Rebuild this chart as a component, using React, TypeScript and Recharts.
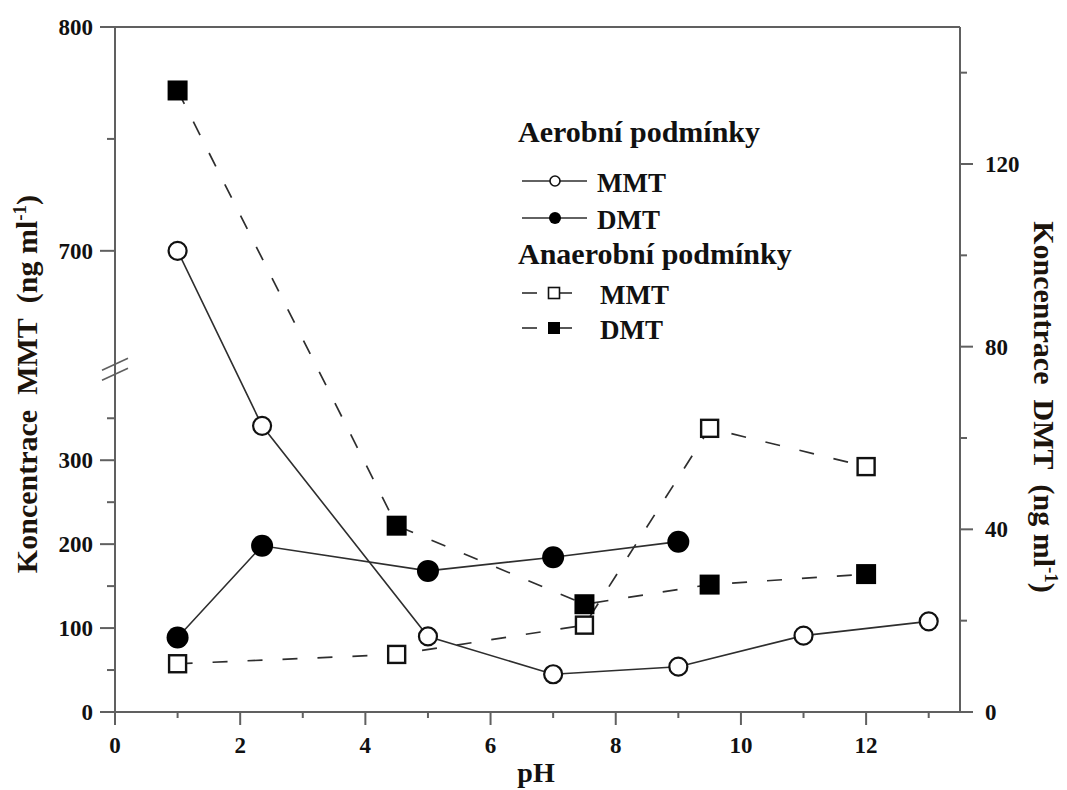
import { Legend, Line, LineChart, XAxis, YAxis } from "recharts";

// values (pH, MMT and DMT in ng/ml)
const aerobicPh = [1, 2.35, 5, 7, 9, 11, 13];
const aerobicMmt = [700, 341, 90, 45, 54, 91, 108];
const aerobicDmtPh = [1, 2.35, 5, 7, 9];
const aerobicDmt = [16.3, 36.4, 30.9, 33.9, 37.3];
const anaerobicPh = [1, 4.5, 7.5, 9.5, 12];
const anaerobicMmt = [57.5, 68.6, 103.5, 338, 292.4];
const anaerobicDmt = [136.1, 40.8, 23.6, 27.9, 30.2];

const phTicks = [0, 1, 2, 3, 4, 5, 6, 7, 8, 9, 10, 11, 12, 13];
const mmtTicks = [0, 50, 100, 150, 200, 250, 300, 350, 700, 750, 800];
const dmtTicks = [0, 20, 40, 60, 80, 100, 120, 140];

// broken MMT axis: 0..~400 keeps its scale, 700..800 is stretched above the break
const POS_700 = 549.5;
const UPPER_GAIN = 2.667;
const toAxis = (m: number) => (m < 500 ? m : POS_700 + (m - 700) * UPPER_GAIN);
const fromAxis = (v: number) => (v <= 500 ? v : 700 + (v - POS_700) / UPPER_GAIN);
const BREAK_AT = 408.5;
const MMT_TOP = toAxis(800);

const aerobicMmtData = aerobicPh.map((ph, i) => ({ ph, v: toAxis(aerobicMmt[i]) }));
const aerobicDmtData = aerobicDmtPh.map((ph, i) => ({ ph, v: aerobicDmt[i] }));
const anaerobicMmtData = anaerobicPh.map((ph, i) => ({ ph, v: toAxis(anaerobicMmt[i]) }));
const anaerobicDmtData = anaerobicPh.map((ph, i) => ({ ph, v: anaerobicDmt[i] }));

const AXIS = "#606060";
const INK = "#111";
const LINE = "#2e2e2e";
const FONT = '"Liberation Serif", "Times New Roman", serif';

type TickProps = { x?: number; y?: number; payload?: { value: number } };
type DotProps = { cx?: number; cy?: number; index?: number };

const tickText = { fontFamily: FONT, fontWeight: 700, fontSize: 23, fill: INK };

function MmtTick({ x = 0, y = 0, payload }: TickProps) {
  const value = payload?.value ?? 0;
  if (Math.abs(value - BREAK_AT) < 0.5) {
    return (
      <g stroke={AXIS} strokeWidth={1.6}>
        <line x1={x - 13} y1={y + 1} x2={x + 13} y2={y - 11} />
        <line x1={x - 13} y1={y + 11} x2={x + 13} y2={y - 1} />
      </g>
    );
  }
  const mmt = Math.round(fromAxis(value));
  const major = mmt % 100 === 0;
  return (
    <g>
      <line x1={x} y1={y} x2={x - (major ? 15 : 8)} y2={y} stroke={AXIS} strokeWidth={2} />
      {major && (
        <text x={x - 22} y={y} dy="0.35em" textAnchor="end" {...tickText}>
          {mmt}
        </text>
      )}
    </g>
  );
}

function DmtTick({ x = 0, y = 0, payload }: TickProps) {
  const value = payload?.value ?? 0;
  const major = value % 40 === 0;
  return (
    <g>
      <line x1={x} y1={y} x2={x + (major ? 13 : 7)} y2={y} stroke={AXIS} strokeWidth={2} />
      {major && (
        <text x={x + 25} y={y} dy="0.35em" textAnchor="start" {...tickText}>
          {value}
        </text>
      )}
    </g>
  );
}

function PhTick({ x = 0, y = 0, payload }: TickProps) {
  const value = payload?.value ?? 0;
  const major = value % 2 === 0;
  return (
    <g>
      <line x1={x} y1={y} x2={x} y2={y + (major ? 13 : 6)} stroke={AXIS} strokeWidth={2} />
      {major && (
        <text x={x} y={y + 33} dy="0.35em" textAnchor="middle" {...tickText}>
          {value}
        </text>
      )}
    </g>
  );
}

function TopTick({ x = 0, y = 0, payload }: TickProps) {
  const major = (payload?.value ?? 0) % 2 === 0;
  return <line x1={x} y1={y} x2={x} y2={y + (major ? 7 : 4)} stroke={AXIS} strokeWidth={1.6} />;
}

const openCircle = ({ cx = 0, cy = 0, index = 0 }: DotProps) => (
  <circle key={`oc${index}`} cx={cx} cy={cy} r={9} fill="#fff" stroke={INK} strokeWidth={2.2} />
);
const filledCircle = ({ cx = 0, cy = 0, index = 0 }: DotProps) => (
  <circle key={`fc${index}`} cx={cx} cy={cy} r={11} fill="#000" />
);
const openSquare = ({ cx = 0, cy = 0, index = 0 }: DotProps) => (
  <rect key={`os${index}`} x={cx - 8.5} y={cy - 8.5} width={17} height={17} fill="#fff" stroke={INK} strokeWidth={2.4} />
);
const filledSquare = ({ cx = 0, cy = 0, index = 0 }: DotProps) => (
  <rect key={`fs${index}`} x={cx - 10} y={cy - 10} width={20} height={20} fill="#000" />
);

const titleText = { fontFamily: FONT, fontWeight: 700, fontSize: 30, fill: "#1c140c" };

const LeftTitle = () => (
  <text x={37} y={384} textAnchor="middle" transform="rotate(-90, 37, 384)" {...titleText}>
    Koncentrace{"\u00a0\u00a0"}MMT{"\u00a0\u00a0"}(ng ml
    <tspan fontSize={19} dy={-11}>-1</tspan>
    <tspan dy={11}>)</tspan>
  </text>
);

const RightTitle = () => (
  <text x={1034} y={407} textAnchor="middle" transform="rotate(90, 1034, 407)" {...titleText}>
    Koncentrace{"\u00a0\u00a0"}DMT{"\u00a0\u00a0"}(ng ml
    <tspan fontSize={19} dy={-11}>-1</tspan>
    <tspan dy={11}>)</tspan>
  </text>
);

const PhTitle = () => (
  <text x={536} y={782} textAnchor="middle" {...titleText} fontSize={28} fill={INK}>
    pH
  </text>
);

function LegendBox() {
  const item = { fontFamily: FONT, fontWeight: 700, fontSize: 27, fill: INK };
  const head = { fontFamily: FONT, fontWeight: 700, fontSize: 30, fill: INK };
  return (
    <svg width={320} height={250}>
      <text x={18} y={42} {...head}>Aerobní podmínky</text>
      <line x1={22} y1={81} x2={87} y2={81} stroke={LINE} strokeWidth={1.6} />
      <circle cx={55} cy={81} r={5} fill="#fff" stroke={INK} strokeWidth={1.6} />
      <text x={97} y={92} {...item}>MMT</text>
      <line x1={22} y1={118} x2={87} y2={118} stroke={LINE} strokeWidth={1.6} />
      <circle cx={55} cy={118} r={6} fill="#000" />
      <text x={97} y={129} {...item}>DMT</text>
      <text x={18} y={164} {...head}>Anaerobní podmínky</text>
      <line x1={22} y1={193} x2={37} y2={193} stroke={LINE} strokeWidth={1.6} />
      <line x1={60} y1={193} x2={72} y2={193} stroke={LINE} strokeWidth={1.6} />
      <rect x={48.5} y={187.5} width={11} height={11} fill="#fff" stroke={INK} strokeWidth={1.6} />
      <text x={100} y={204} {...item}>MMT</text>
      <line x1={22} y1={228} x2={37} y2={228} stroke={LINE} strokeWidth={1.6} />
      <line x1={60} y1={228} x2={72} y2={228} stroke={LINE} strokeWidth={1.6} />
      <rect x={48} y={222} width={12} height={12} fill="#000" />
      <text x={100} y={239} {...item}>DMT</text>
    </svg>
  );
}

export default function App() {
  return (
    <div style={{ position: "absolute", left: 0, top: 0, width: 1067, height: 790, background: "#fff" }}>
      <LineChart width={1067} height={790} margin={{ top: 17, right: 47, bottom: 48, left: 55 }}>
        <XAxis
          xAxisId="ph"
          dataKey="ph"
          type="number"
          domain={[0, 13.5]}
          ticks={phTicks}
          interval={0}
          allowDataOverflow
          height={30}
          stroke={AXIS}
          strokeWidth={2}
          tickLine={false}
          tickSize={0}
          tickMargin={0}
          tick={<PhTick />}
          label={<PhTitle />}
        />
        <XAxis
          xAxisId="top"
          orientation="top"
          type="number"
          domain={[0, 13.5]}
          ticks={phTicks}
          interval={0}
          allowDataOverflow
          height={10}
          stroke={AXIS}
          strokeWidth={2}
          tickLine={false}
          tickSize={0}
          tickMargin={0}
          tick={<TopTick />}
        />
        <YAxis
          yAxisId="mmt"
          type="number"
          domain={[0, MMT_TOP]}
          ticks={[...mmtTicks.map(toAxis), BREAK_AT]}
          interval={0}
          allowDataOverflow
          width={60}
          stroke={AXIS}
          strokeWidth={2}
          tickLine={false}
          tickSize={0}
          tickMargin={0}
          tick={<MmtTick />}
          label={<LeftTitle />}
        />
        <YAxis
          yAxisId="dmt"
          orientation="right"
          type="number"
          domain={[0, 150]}
          ticks={dmtTicks}
          interval={0}
          allowDataOverflow
          width={60}
          stroke={AXIS}
          strokeWidth={2}
          tickLine={false}
          tickSize={0}
          tickMargin={0}
          tick={<DmtTick />}
          label={<RightTitle />}
        />
        <Legend
          layout="vertical"
          align="center"
          verticalAlign="middle"
          content={() => <LegendBox />}
          wrapperStyle={{ left: 500, top: 100, width: 320, height: 250 }}
        />
        <Line
          name="Aerobní MMT"
          xAxisId="ph"
          yAxisId="mmt"
          data={aerobicMmtData}
          dataKey="v"
          stroke={LINE}
          strokeWidth={1.6}
          dot={openCircle}
          activeDot={false}
          isAnimationActive={false}
        />
        <Line
          name="Aerobní DMT"
          xAxisId="ph"
          yAxisId="dmt"
          data={aerobicDmtData}
          dataKey="v"
          stroke={LINE}
          strokeWidth={1.6}
          dot={filledCircle}
          activeDot={false}
          isAnimationActive={false}
        />
        <Line
          name="Anaerobní MMT"
          xAxisId="ph"
          yAxisId="mmt"
          data={anaerobicMmtData}
          dataKey="v"
          stroke={LINE}
          strokeWidth={1.7}
          strokeDasharray="15 20"
          dot={openSquare}
          activeDot={false}
          isAnimationActive={false}
        />
        <Line
          name="Anaerobní DMT"
          xAxisId="ph"
          yAxisId="dmt"
          data={anaerobicDmtData}
          dataKey="v"
          stroke={LINE}
          strokeWidth={1.7}
          strokeDasharray="15 20"
          dot={filledSquare}
          activeDot={false}
          isAnimationActive={false}
        />
      </LineChart>
    </div>
  );
}
